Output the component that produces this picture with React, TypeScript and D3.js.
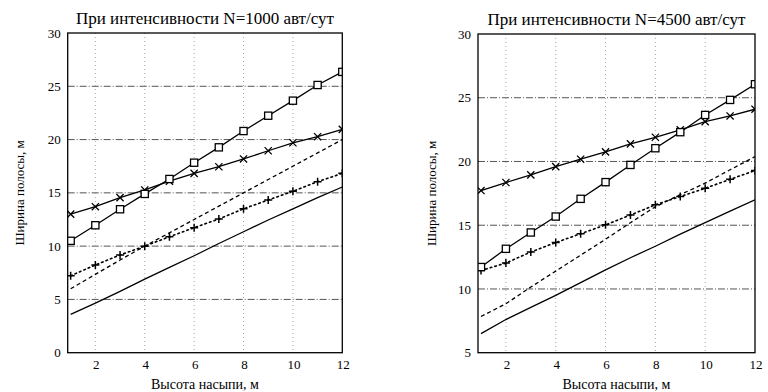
import React from "react";
import * as d3 from "d3";

// Height of embankment (x values)
const heights = [1, 2, 3, 4, 5, 6, 7, 8, 9, 10, 11, 12];

// N = 1000 veh/day
const n1000Squares = [10.5, 11.96, 13.46, 14.9, 16.3, 17.83, 19.27, 20.8, 22.24, 23.65, 25.12, 26.35];
const n1000Crosses = [13.0, 13.7, 14.55, 15.27, 16.1, 16.83, 17.45, 18.18, 18.95, 19.7, 20.27, 20.96];
const n1000Plus = [7.22, 8.23, 9.17, 10.0, 10.88, 11.73, 12.55, 13.5, 14.33, 15.15, 16.05, 16.83];
const n1000Dashed = [6.0, 7.35, 8.7, 10.0, 11.25, 12.5, 13.75, 15.0, 16.25, 17.5, 18.75, 20.0];
const n1000Solid = [3.6, 4.65, 5.75, 6.9, 8.0, 9.1, 10.25, 11.35, 12.45, 13.5, 14.55, 15.55];

// N = 4500 veh/day
const n4500Squares = [11.72, 13.15, 14.43, 15.68, 17.07, 18.38, 19.73, 21.04, 22.3, 23.65, 24.83, 26.06];
const n4500Crosses = [17.72, 18.35, 18.95, 19.6, 20.18, 20.75, 21.38, 21.9, 22.48, 23.13, 23.57, 24.1];
const n4500Plus = [11.45, 12.03, 12.9, 13.64, 14.33, 15.03, 15.8, 16.6, 17.25, 17.9, 18.6, 19.29];
const n4500Dashed = [7.84, 8.84, 10.15, 11.4, 12.65, 13.9, 15.2, 16.45, 17.4, 18.3, 19.35, 20.38];
const n4500Solid = [6.5, 7.6, 8.55, 9.5, 10.5, 11.5, 12.45, 13.35, 14.3, 15.2, 16.1, 17.0];

const xTicks = [2, 4, 6, 8, 10, 12];
const yTicksLeft = [0, 5, 10, 15, 20, 25, 30];
const yTicksRight = [5, 10, 15, 20, 25, 30];

const titleLeft = "При интенсивности N=1000 авт/сут";
const titleRight = "При интенсивности N=4500 авт/сут";
const xLabel = "Высота насыпи, м";
const yLabel = "Ширина полосы, м";

type Kind = "square" | "cross" | "plus" | "dashed" | "solid";
interface Series { kind: Kind; values: number[] }

const FONT = "Liberation Serif, Times New Roman, serif";

function Chart(props: {
  id: string;
  left: number; right: number; top: number; bottom: number;
  yDomain: [number, number]; yTicks: number[];
  title: string; ylabelX: number;
  series: Series[];
}) {
  const { id, left, right, top, bottom, yDomain, yTicks, title, ylabelX, series } = props;
  const x = d3.scaleLinear().domain([0.88, 12]).range([left, right]);
  const y = d3.scaleLinear().domain(yDomain).range([bottom, top]);
  const line = d3.line<number>().x((_, i) => x(heights[i])).y((v) => y(v));

  const marker = (kind: Kind, cx: number, cy: number, key: number) => {
    const s = 3.6;
    if (kind === "square")
      return <rect key={key} x={cx - s} y={cy - s} width={2 * s} height={2 * s} fill="white" stroke="black" strokeWidth={1.3} />;
    if (kind === "cross")
      return <path key={key} d={`M${cx - s},${cy - s}L${cx + s},${cy + s}M${cx - s},${cy + s}L${cx + s},${cy - s}`} stroke="black" strokeWidth={1.3} />;
    if (kind === "plus")
      return <path key={key} d={`M${cx - 4},${cy}L${cx + 4},${cy}M${cx},${cy - 4}L${cx},${cy + 4}`} stroke="black" strokeWidth={1.5} />;
    return null;
  };

  const dash = (kind: Kind) =>
    kind === "dashed" ? "4,3" : kind === "plus" ? "1.6,3.2" : undefined;

  const txt = { fontFamily: FONT, fill: "#000" } as React.CSSProperties;

  return (
    <g>
      <defs>
        <clipPath id={id}>
          <rect x={left} y={top} width={right - left} height={bottom - top} />
        </clipPath>
      </defs>
      {/* grid */}
      {yTicks.filter((t) => t !== yDomain[0] && t !== yDomain[1]).map((t) => (
        <line key={"h" + t} x1={left} x2={right} y1={y(t)} y2={y(t)} stroke="#555" strokeWidth={1} strokeDasharray="7,2,1,2" />
      ))}
      {xTicks.filter((t) => t !== 12).map((t) => (
        <line key={"v" + t} x1={x(t)} x2={x(t)} y1={top} y2={bottom} stroke="#aaa" strokeWidth={1} strokeDasharray="1,3" />
      ))}
      {/* series */}
      <g clipPath={`url(#${id})`}>
        {series.map((s, si) => (
          <g key={si}>
            <path d={line(s.values) || ""} fill="none" stroke="black"
              strokeWidth={s.kind === "plus" ? 1.6 : 1.3}
              strokeLinecap={s.kind === "plus" ? "round" : "butt"}
              strokeDasharray={dash(s.kind)} />
            {s.values.map((v, i) => marker(s.kind, x(heights[i]), y(v), i))}
          </g>
        ))}
      </g>
      {/* frame */}
      <rect x={left} y={top} width={right - left} height={bottom - top} fill="none" stroke="black" strokeWidth={1.3} />
      {/* tick labels */}
      {yTicks.map((t) => (
        <text key={"yt" + t} x={left - 7} y={y(t)} dy="0.35em" textAnchor="end" fontSize={13} style={txt}>{t}</text>
      ))}
      {xTicks.map((t) => (
        <text key={"xt" + t} x={x(t) + 1} y={bottom + 16} textAnchor="middle" fontSize={13} style={txt}>{t}</text>
      ))}
      <text x={(left + right) / 2} y={top - 9} textAnchor="middle" fontSize={17} style={txt}>{title}</text>
      <text x={(left + right) / 2} y={bottom + 36} textAnchor="middle" fontSize={14} style={txt}>{xLabel}</text>
      <text transform={`translate(${ylabelX},${(top + bottom) / 2}) rotate(-90)`} dy="0.35em" textAnchor="middle" fontSize={13} style={txt}>{yLabel}</text>
    </g>
  );
}

export default function App() {
  const leftSeries: Series[] = [
    { kind: "solid", values: n1000Solid },
    { kind: "dashed", values: n1000Dashed },
    { kind: "plus", values: n1000Plus },
    { kind: "cross", values: n1000Crosses },
    { kind: "square", values: n1000Squares },
  ];
  const rightSeries: Series[] = [
    { kind: "solid", values: n4500Solid },
    { kind: "dashed", values: n4500Dashed },
    { kind: "plus", values: n4500Plus },
    { kind: "cross", values: n4500Crosses },
    { kind: "square", values: n4500Squares },
  ];
  return (
    <svg width={768} height={392} style={{ position: "absolute", left: 0, top: 0, background: "white" }}>
      <rect width={768} height={392} fill="white" />
      <Chart id="clipL" left={67.7} right={342.3} top={33} bottom={352.7} yDomain={[0, 30]} yTicks={yTicksLeft}
        title={titleLeft} ylabelX={19} series={leftSeries} />
      <Chart id="clipR" left={478} right={755} top={34} bottom={352.7} yDomain={[5, 30]} yTicks={yTicksRight}
        title={titleRight} ylabelX={431} series={rightSeries} />
    </svg>
  );
}
